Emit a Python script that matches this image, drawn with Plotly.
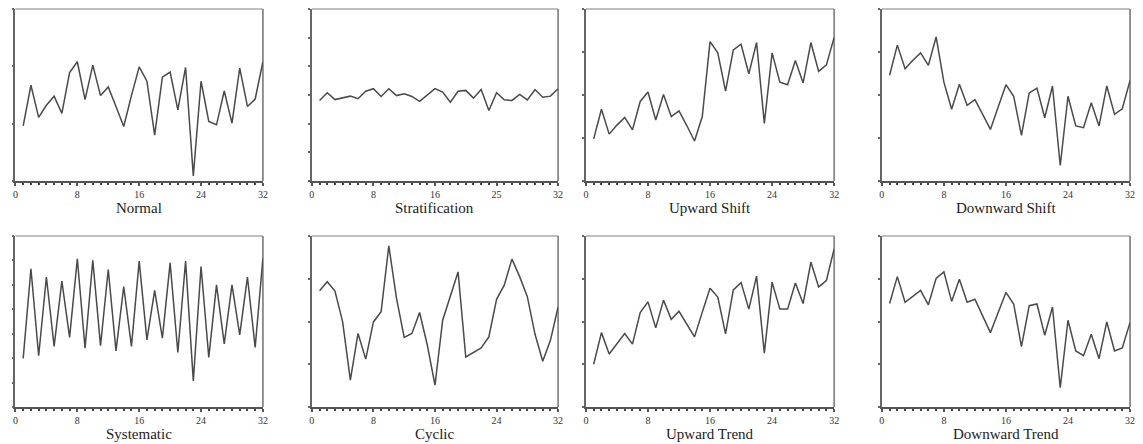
import plotly.graph_objects as go

x_vals = list(range(1, 33))

normal = [0.96, 1.67, 1.11, 1.32, 1.48, 1.18, 1.89, 2.08, 1.42, 2.02, 1.49, 1.64, 1.30, 0.95, 1.49, 1.99,
          1.74, 0.80, 1.81, 1.90, 1.24, 1.98, 0.09, 1.74, 1.04, 0.98, 1.57, 1.01, 1.97, 1.30, 1.43, 2.08]
stratification = [2.81, 3.08, 2.84, 2.90, 2.96, 2.87, 3.13, 3.22, 2.95, 3.22, 2.98, 3.04, 2.95, 2.78, 3.01, 3.22,
                  3.10, 2.75, 3.13, 3.16, 2.89, 3.19, 2.46, 3.08, 2.83, 2.81, 3.02, 2.83, 3.19, 2.92, 2.96, 3.22]
upward_shift = [0.98, 1.67, 1.09, 1.30, 1.48, 1.19, 1.85, 2.07, 1.42, 2.01, 1.50, 1.63, 1.29, 0.93, 1.50, 3.24,
                2.98, 2.09, 3.05, 3.18, 2.49, 3.22, 1.34, 2.98, 2.30, 2.24, 2.80, 2.28, 3.22, 2.55, 2.70, 3.34]
downward_shift = [2.46, 3.16, 2.61, 2.81, 2.98, 2.69, 3.35, 2.30, 1.67, 2.25, 1.76, 1.89, 1.55, 1.20, 1.72, 2.24,
                  1.97, 1.06, 2.05, 2.16, 1.47, 2.21, 0.36, 1.97, 1.28, 1.24, 1.82, 1.28, 2.21, 1.55, 1.68, 2.34]
systematic = [1.99, 5.66, 2.10, 5.32, 2.48, 5.15, 2.85, 6.07, 2.41, 6.00, 2.51, 5.63, 2.30, 4.93, 2.48, 5.97,
              2.75, 4.77, 2.82, 5.90, 2.23, 5.97, 1.07, 5.75, 2.03, 5.00, 2.58, 5.00, 2.95, 5.32, 2.44, 6.10]
cyclic = [2.72, 2.93, 2.71, 1.99, 0.63, 1.72, 1.12, 1.99, 2.23, 3.77, 2.54, 1.63, 1.72, 2.21, 1.45, 0.51,
          2.03, 2.62, 3.16, 1.17, 1.27, 1.38, 1.64, 2.52, 2.85, 3.46, 3.05, 2.58, 1.70, 1.07, 1.56, 2.34]
upward_trend = [1.00, 1.74, 1.24, 1.49, 1.72, 1.47, 2.21, 2.46, 1.85, 2.50, 2.05, 2.24, 1.94, 1.64, 2.22, 2.78,
                2.57, 1.71, 2.74, 2.91, 2.29, 3.06, 1.26, 2.92, 2.29, 2.29, 2.90, 2.42, 3.39, 2.81, 2.96, 3.70]
downward_trend = [2.42, 3.05, 2.45, 2.60, 2.73, 2.39, 3.01, 3.16, 2.47, 2.99, 2.45, 2.52, 2.13, 1.74, 2.21, 2.68,
                  2.41, 1.41, 2.37, 2.41, 1.68, 2.34, 0.45, 2.03, 1.31, 1.20, 1.70, 1.13, 1.99, 1.31, 1.38, 1.98]

titles = ["Normal", "Stratification", "Upward Shift", "Downward Shift",
          "Systematic", "Cyclic", "Upward Trend", "Downward Trend"]
series = [normal, stratification, upward_shift, downward_shift,
          systematic, cyclic, upward_trend, downward_trend]
y_max = [3, 6, 4, 4, 7, 4, 4, 4]

xtick_vals = [0, 8, 16, 24, 32]
xtick_text_default = ["0", "8", "16", "24", "32"]
xtick_text_strat = ["0", "8", "16", "25", "32"]

# page body has an 8px margin; the figure is sized/shifted to compensate
OFF = 8
W, H = 1143 - OFF, 444 - OFF
col_px = [(12.5, 261.7), (311, 559), (587, 837), (885, 1135)]
row_px = [(9, 181), (236, 407)]

fig = go.Figure()
font_fam = "Liberation Serif, Times New Roman, serif"

for i, (title, ys) in enumerate(zip(titles, series)):
    r, c = divmod(i, 4)
    n = i + 1
    xa = "x" if n == 1 else f"x{n}"
    ya = "y" if n == 1 else f"y{n}"
    xd = [(col_px[c][0] - OFF) / W, (col_px[c][1] - OFF) / W]
    yd = [1 - (row_px[r][1] - OFF) / H, 1 - (row_px[r][0] - OFF) / H]
    fig.add_trace(go.Scatter(x=x_vals, y=ys, mode="lines",
                             line=dict(color="#4a4a4a", width=1.5),
                             xaxis=xa, yaxis=ya, showlegend=False, hoverinfo="skip"))
    xkey = "xaxis" if n == 1 else f"xaxis{n}"
    ykey = "yaxis" if n == 1 else f"yaxis{n}"
    fig.layout[xkey] = dict(
        domain=xd, anchor=ya, range=[0, 32], showgrid=False, zeroline=False,
        showline=True, linecolor="#555", linewidth=1.5,
        tickmode="array", tickvals=xtick_vals,
        ticktext=xtick_text_strat if title == "Stratification" else xtick_text_default,
        ticks="outside", ticklen=3, tickcolor="#555", tickwidth=1.5,
        minor=dict(dtick=1, ticks="outside", ticklen=2, tickcolor="#444", tickwidth=1.5, showgrid=False),
        tickfont=dict(family=font_fam, size=10, color="#333"),
    )
    fig.layout[ykey] = dict(
        domain=yd, anchor=xa, range=[0, y_max[i]], showgrid=False, zeroline=False,
        showline=True, linecolor="#666", linewidth=1.5,
        tickmode="linear", tick0=0, dtick=1, ticks="outside", ticklen=2,
        tickcolor="#666", tickwidth=1.5, showticklabels=False,
    )
    fig.add_shape(type="line", xref=f"{xa} domain", yref=f"{ya} domain",
                  x0=0, x1=1, y0=1, y1=1, line=dict(color="#aaaaaa", width=1.5), layer="below")
    fig.add_shape(type="line", xref=f"{xa} domain", yref=f"{ya} domain",
                  x0=1, x1=1, y0=0, y1=1, line=dict(color="#888888", width=1.8), layer="below")
    fig.add_annotation(text=title, xref=f"{xa} domain", yref="paper",
                       x=0.5, y=1 - (row_px[r][1] + 27 - OFF) / H, yanchor="middle",
                       showarrow=False, font=dict(family=font_fam, size=15, color="#222"))

fig.update_layout(width=W, height=H, margin=dict(l=0, r=0, t=0, b=0),
                  paper_bgcolor="white", plot_bgcolor="white")
fig.write_html("out.html")
